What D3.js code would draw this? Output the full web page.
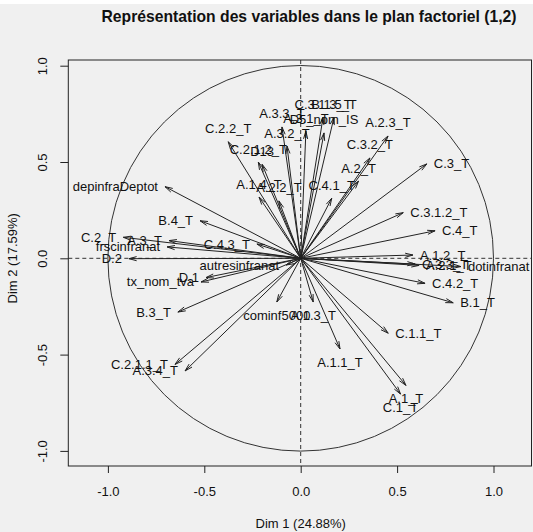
<!DOCTYPE html>
<html><head><meta charset="utf-8">
<script src="https://cdn.jsdelivr.net/npm/d3@7"></script>
<style>
html,body{margin:0;padding:0;background:#f0f0f0;}
svg{display:block;}
text{font-family:"Liberation Sans",Arial,sans-serif;fill:#111;}
</style></head>
<body>
<svg id="c" width="533" height="532"></svg>
<script>
const varNames = ["depinfraDeptot","B.4_T","C.2_T","A.3_T","frscinfranat","D.2","C.4.3_T","autresinfranat","D.1","tx_nom_tva","B.3_T","C.2.1.1_T","A.3.4_T","cominf5000","A.1.3_T","A.1.1_T","C.1.1_T","A.1_T","C.1_T","B.1_T","C.4.2_T","A.1.2_T","C.3.3_T","A.2.1_T","dotinfranat","C.4_T","C.3.1.2_T","C.3_T","C.4.1_T","A.2_T","C.3.2_T","A.2.3_T","C.2.2_T","C.2.1.2_T","D13","A.3.3_T","A.3.2_T","C.3.1.3_T","B.1.5_T","D5_nom_IS","A.3.1_T","A.1.4_T","A.2.2_T"];
const dim1 = [-0.704,-0.522,-0.920,-0.683,-0.693,-0.891,-0.227,-0.076,-0.491,-0.517,-0.637,-0.652,-0.600,-0.124,0.065,0.204,0.454,0.546,0.518,0.791,0.645,0.582,0.593,0.614,0.831,0.697,0.532,0.654,0.161,0.300,0.359,0.453,-0.376,-0.220,-0.200,-0.097,-0.071,0.116,0.173,0.121,0.027,-0.216,-0.113];
const dim2 = [0.372,0.195,0.109,0.092,0.059,-0.002,0.074,-0.035,-0.100,-0.123,-0.279,-0.551,-0.585,-0.227,-0.227,-0.471,-0.389,-0.660,-0.705,-0.231,-0.130,0.017,-0.030,-0.037,-0.043,0.143,0.237,0.490,0.312,0.401,0.521,0.635,0.605,0.500,0.488,0.682,0.583,0.733,0.733,0.651,0.660,0.318,0.298];
const tickVals = [-1.0,-0.5,0.0,0.5,1.0];
const title = "Représentation des variables dans le plan factoriel (1,2)";
const xTitle = "Dim 1 (24.88%)";
const yTitle = "Dim 2 (17.59%)";

const svg = d3.select("#c");
const W = 533, H = 532;
const box = {l:68.3, r:531.5, t:60, b:466};
const x = d3.scaleLinear().domain([-1,1]).range([107.9,493.5]);
const y = d3.scaleLinear().domain([-1,1]).range([450.9,65.7]);

svg.append("rect").attr("x",0).attr("y",0).attr("width",W).attr("height",H).attr("fill","#f0f0f0");
svg.append("rect").attr("x",0).attr("y",0).attr("width",W).attr("height",4).attr("fill","#ffffff");

svg.append("text").attr("x",309).attr("y",22).attr("text-anchor","middle")
  .style("font-weight","bold").style("font-size","15.7px").text(title);

// dashed axes lines
svg.append("line").attr("x1",box.l).attr("x2",box.r).attr("y1",y(0)).attr("y2",y(0))
  .attr("stroke","#333").attr("stroke-dasharray","4,3");
svg.append("line").attr("x1",x(0)).attr("x2",x(0)).attr("y1",box.t).attr("y2",box.b)
  .attr("stroke","#333").attr("stroke-dasharray","4,3");

// circle
svg.append("circle").attr("cx",x(0)).attr("cy",y(0)).attr("r",x(1)-x(0))
  .attr("fill","none").attr("stroke","#333").attr("stroke-width",1);

// box
svg.append("rect").attr("x",box.l).attr("y",box.t).attr("width",box.r-box.l).attr("height",box.b-box.t)
  .attr("fill","none").attr("stroke","#222").attr("stroke-width",1);

const fmt = d => d3.format(".1f")(d).replace("−","-");
const gx = svg.append("g").attr("transform",`translate(0,${box.b})`)
  .call(d3.axisBottom(x).tickValues(tickVals).tickFormat(fmt).tickSize(7).tickPadding(14));
gx.select(".domain").remove();
gx.selectAll("line").attr("stroke","#222");
gx.selectAll("text").style("font-size","13px").attr("fill","#111").style("font-family","Liberation Sans, Arial, sans-serif");

const gy = svg.append("g").attr("transform",`translate(${box.l},0)`)
  .call(d3.axisLeft(y).tickValues(tickVals).tickFormat(fmt).tickSize(8));
gy.select(".domain").remove();
gy.selectAll("line").attr("stroke","#222");
gy.selectAll("text").style("font-size","13px").attr("fill","#111").style("font-family","Liberation Sans, Arial, sans-serif")
  .attr("x",null).attr("dy",null).attr("text-anchor","middle")
  .attr("transform","translate(-26,0) rotate(-90)").attr("y",4.5);

svg.append("text").attr("x",x(0)).attr("y",528).attr("text-anchor","middle").style("font-size","13px").text(xTitle);
svg.append("text").attr("transform",`translate(16.5,${y(0)}) rotate(-90)`).attr("text-anchor","middle").style("font-size","13px").text(yTitle);

// arrows
const data = varNames.map((n,i)=>({name:n, d1:dim1[i], d2:dim2[i]}));
const gA = svg.append("g");
const headLen = 8, headAng = 15*Math.PI/180;
data.forEach(d=>{
  const x0=x(0), y0=y(0), x1=x(d.d1), y1=y(d.d2);
  gA.append("line").attr("x1",x0).attr("y1",y0).attr("x2",x1).attr("y2",y1)
    .attr("stroke","#222").attr("stroke-width",1);
  const a = Math.atan2(y1-y0, x1-x0);
  const p1 = [x1-headLen*Math.cos(a-headAng), y1-headLen*Math.sin(a-headAng)];
  const p2 = [x1-headLen*Math.cos(a+headAng), y1-headLen*Math.sin(a+headAng)];
  gA.append("path").attr("d",`M${p1[0]},${p1[1]}L${x1},${y1}L${p2[0]},${p2[1]}`)
    .attr("fill","none").attr("stroke","#222").attr("stroke-width",1);
});
const gL = svg.append("g");
data.forEach(d=>{
  const x1=x(d.d1), y1=y(d.d2);
  let tx=x1, ty=y1, anchor="middle";
  if (Math.abs(d.d1) > Math.abs(d.d2)) {
    if (d.d1>=0){ tx=x1+7; anchor="start"; } else { tx=x1-7; anchor="end"; }
    ty = y1+4.5;
  } else {
    if (d.d2>=0){ ty=y1-8.5; } else { ty=y1+17.5; }
  }
  gL.append("text").attr("x",tx).attr("y",ty).attr("text-anchor",anchor)
    .style("font-size","13px").text(d.name);
});
</script>
</body></html>
